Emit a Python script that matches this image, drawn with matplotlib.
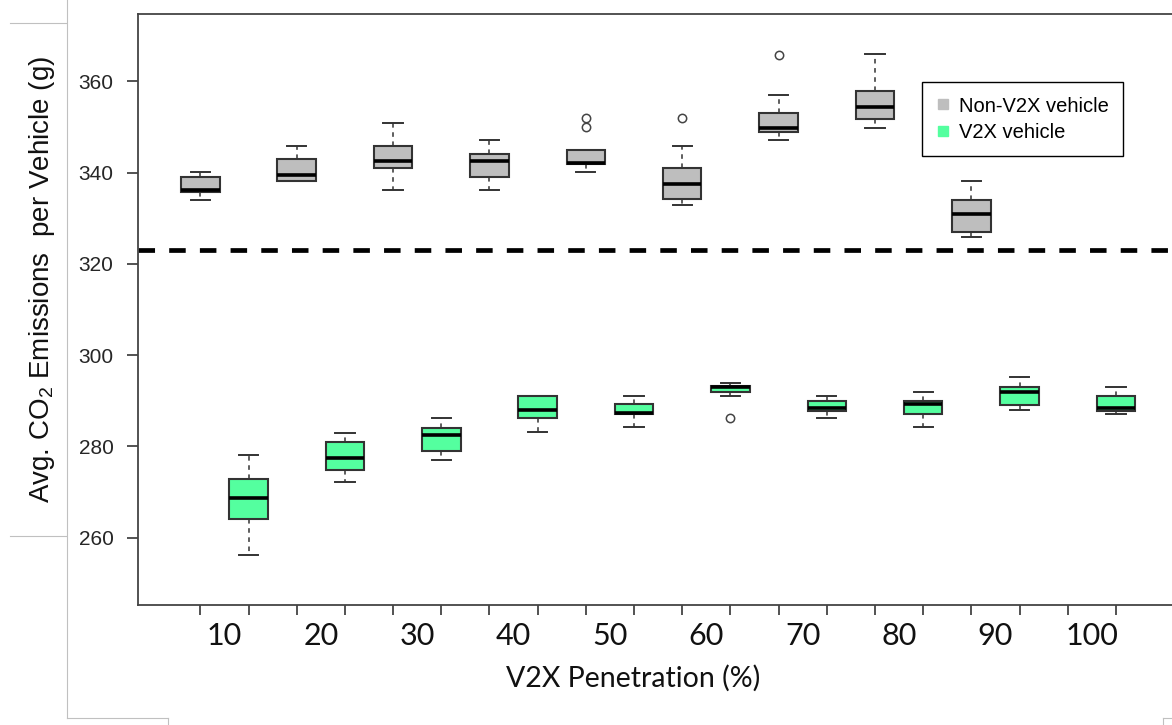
import matplotlib.pyplot as plt
from matplotlib.lines import Line2D

plt.rcParams['font.family'] = ['Liberation Sans', 'DejaVu Sans']
plt.rcParams['mathtext.fontset'] = 'custom'
plt.rcParams['mathtext.rm'] = 'Liberation Sans'
plt.rcParams['mathtext.it'] = 'Liberation Sans:italic'

penetration = ['10', '20', '30', '40', '50', '60', '70', '80', '90', '100']

# non-V2X vehicles (none left at 100 %)
non_lo = [334.1, 338.1, 336.1, 336.1, 340.2, 333.0, 347.1, 349.9, 326.0]
non_q1 = [335.8, 338.1, 341.0, 339.0, 341.8, 334.2, 349.0, 351.8, 326.9]
non_med = [336.1, 339.5, 342.5, 342.5, 342.2, 337.6, 349.8, 354.5, 331.0]
non_q3 = [339.0, 343.0, 345.8, 344.1, 345.0, 341.0, 353.1, 358.0, 334.1]
non_hi = [340.1, 345.8, 351.0, 347.1, 345.0, 345.8, 357.1, 366.0, 338.1]
non_out = [[], [], [], [], [352.0, 350.1], [351.9], [365.9], [], []]

# V2X vehicles
v2x_lo = [256.1, 272.1, 277.0, 283.1, 284.2, 291.1, 286.1, 284.2, 287.9, 287.1]
v2x_q1 = [264.1, 274.9, 279.0, 286.1, 287.0, 291.9, 287.8, 287.0, 289.1, 287.8]
v2x_med = [268.6, 277.5, 282.5, 287.9, 287.4, 293.0, 288.4, 289.2, 292.0, 288.4]
v2x_q3 = [272.9, 281.0, 284.1, 291.1, 289.2, 293.3, 290.0, 290.0, 293.1, 291.1]
v2x_hi = [278.1, 283.0, 286.2, 291.1, 291.1, 293.9, 291.1, 291.9, 295.2, 293.1]
v2x_out = [[], [], [], [], [], [286.1], [], [], [], []]

baseline = 323

gray = '#BEBEBE'
green = '#54FF9F'


def make_stats(lo, q1, med, q3, hi, out):
    return [dict(whislo=a, q1=b, med=c, q3=d, whishi=e, fliers=f)
            for a, b, c, d, e, f in zip(lo, q1, med, q3, hi, out)]


fig = plt.figure(figsize=(11.72, 7.25), dpi=100)
W, H = 1172, 725
ax = fig.add_axes([137.7 / W, 1 - 605 / H, (1180 - 137.7) / W, (605 - 14) / H])

common = dict(widths=0.8, patch_artist=True, manage_ticks=False,
              whiskerprops=dict(color='#333333', lw=1.1, linestyle=(0, (3, 3))),
              capprops=dict(color='#333333', lw=1.4),
              medianprops=dict(color='black', lw=2.6, solid_capstyle='butt'),
              flierprops=dict(marker='o', markersize=6, markerfacecolor='none',
                              markeredgecolor='#444444', markeredgewidth=1.1))

ax.bxp(make_stats(non_lo, non_q1, non_med, non_q3, non_hi, non_out),
       positions=[2 * i + 1 for i in range(len(non_med))],
       boxprops=dict(facecolor=gray, edgecolor='#333333', lw=1.5), **common)
ax.bxp(make_stats(v2x_lo, v2x_q1, v2x_med, v2x_q3, v2x_hi, v2x_out),
       positions=[2 * i + 2 for i in range(len(v2x_med))],
       boxprops=dict(facecolor=green, edgecolor='#333333', lw=1.5), **common)

ax.axhline(baseline, color='black', lw=3.4, linestyle=(0, (3.5, 3)), dash_capstyle='butt')

ax.set_xlim(-0.3, 21.33)
ax.set_ylim(245.2, 374.8)
ax.set_yticks([260, 280, 300, 320, 340, 360])
ax.tick_params(axis='y', length=8, width=1.3, color='#444444', pad=9.5,
               labelsize=15, labelcolor='#262626')
ax.set_xticks(range(1, 21))
ax.set_xticklabels([])
ax.set_xticks([2 * i + 1.5 for i in range(10)], minor=True)
ax.set_xticklabels(penetration, minor=True, fontfamily='Lato', fontsize=22)
ax.tick_params(axis='x', which='major', length=7.5, width=1.3, color='#444444')
ax.tick_params(axis='x', which='minor', length=0, pad=12, labelcolor='#111111')

for side in ['left', 'bottom', 'top']:
    ax.spines[side].set_color('#444444')
    ax.spines[side].set_linewidth(1.3)
ax.spines['right'].set_visible(False)

fig.text(633 / W, 1 - 678 / H, 'V2X Penetration (%)', fontfamily='Lato', fontsize=20.5,
         ha='center', va='center', color='#111111')
fig.text(42 / W, 1 - 279.5 / H, 'Avg. CO$_2$ Emissions  per Vehicle (g)', fontsize=20,
         rotation=90, ha='center', va='center', color='#111111')

handles = [Line2D([], [], marker='s', ls='', color=gray, markersize=7.2),
           Line2D([], [], marker='s', ls='', color=green, markersize=7.2)]
leg = ax.legend(handles, ['Non-V2X vehicle', 'V2X vehicle'], loc='upper left',
                bbox_to_anchor=(922 / W, 1 - 82 / H), bbox_transform=fig.transFigure,
                fontsize=14.5, borderaxespad=0, borderpad=0.72, handlelength=0.6,
                handletextpad=0.5, labelspacing=0.36, fancybox=False, framealpha=1,
                edgecolor='black')
leg.get_frame().set_linewidth(1.0)

# thin frame lines left over from the page the chart was taken from
edge = '#c0c0c0'
for xs, ys in [([66.7, 66.7], [0, 718]), ([10, 66], [23.3, 23.3]), ([10, 66], [536, 536]),
               ([66.7, 168.3], [718, 718]), ([168.3, 168.3], [718, 725]),
               ([1163, 1172], [718, 718]), ([1163, 1163], [718, 725])]:
    fig.add_artist(Line2D([x / W for x in xs], [1 - y / H for y in ys],
                          color=edge, lw=0.8, transform=fig.transFigure))

fig.savefig('out.png', dpi=100)
